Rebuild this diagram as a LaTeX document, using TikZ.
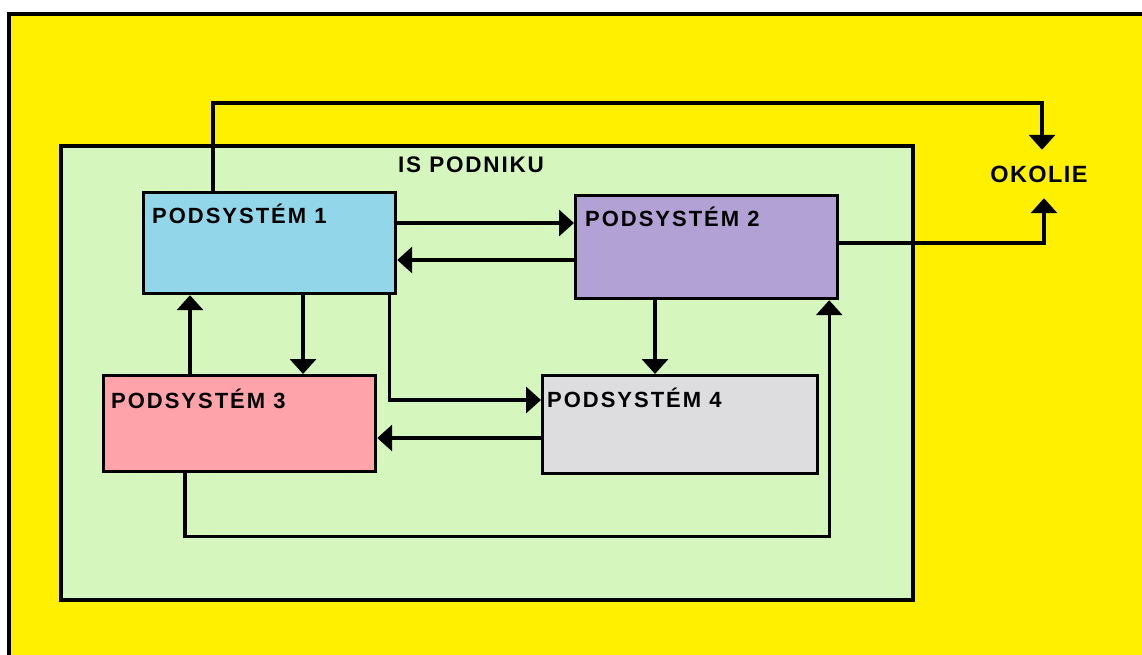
\documentclass[tikz,border=0pt]{standalone}
\usepackage{fontspec}
\setmainfont{Liberation Sans}
\usetikzlibrary{arrows.meta}
\definecolor{bgyellow}{RGB}{255,240,0}
\definecolor{isgreen}{RGB}{213,247,190}
\definecolor{pblue}{RGB}{146,214,234}
\definecolor{ppurple}{RGB}{178,161,212}
\definecolor{ppink}{RGB}{255,163,171}
\definecolor{pgray}{RGB}{221,221,224}
\tikzset{
  frame/.style={draw=black, line width=3.2pt},
  subsys/.style={draw=black, line width=3.2pt, rectangle, inner sep=0pt, anchor=north west},
  lbl/.style={anchor=base west, inner sep=0pt, font=\fontsize{22}{24}\selectfont\bfseries\addfontfeatures{LetterSpace=9}},
  arr/.style={line width=3.4pt, -{Triangle[length=15pt,width=26pt]}},
}
\begin{document}
\begin{tikzpicture}[x=1pt,y=-1pt]
\useasboundingbox (0,0) rectangle (1142,655);
\clip (0,0) rectangle (1142,655);
\fill[white] (0,0) rectangle (1142,655);
\draw[frame, fill=bgyellow] (9,14) rectangle (1170,680);
\draw[frame, fill=isgreen] (61,146) rectangle (913,600);
\node[anchor=base west, inner sep=0pt, font=\fontsize{22.5}{26}\selectfont\bfseries\addfontfeatures{LetterSpace=8}] (is) at (398,172) {IS PODNIKU};
\node[subsys, fill=pblue, minimum width=252pt, minimum height=101pt] (p1) at (142,191) {};
\node[subsys, fill=ppurple, minimum width=262pt, minimum height=103pt] (p2) at (574,194) {};
\node[subsys, fill=ppink, minimum width=272pt, minimum height=96pt] (p3) at (102,374) {};
\node[subsys, fill=pgray, minimum width=275pt, minimum height=98pt] (p4) at (541,374) {};
\node[lbl] (t1) at ([xshift=10pt,yshift=-32pt]p1.north west) {PODSYSTÉM 1};
\node[lbl] (t2) at ([xshift=11pt,yshift=-32pt]p2.north west) {PODSYSTÉM 2};
\node[lbl] (t3) at ([xshift=9pt,yshift=-34pt]p3.north west) {PODSYSTÉM 3};
\node[lbl] (t4) at ([xshift=6pt,yshift=-33pt]p4.north west) {PODSYSTÉM 4};
\node[inner sep=0pt, minimum height=48pt, font=\fontsize{23.5}{26}\selectfont\bfseries\addfontfeatures{LetterSpace=6}] (ok) at (1039,174) {OKOLIE};
% connectors
\draw[arr] ([yshift=-32pt]p1.north east) -- ([yshift=-29pt]p2.north west);
\draw[arr] ([yshift=-66pt]p2.north west) -- ([yshift=-69pt]p1.north east);
\draw[arr] ([xshift=161pt]p1.south west) -- ([xshift=201pt]p3.north west);
\draw[arr] ([xshift=88pt]p3.north west) -- ([xshift=48pt]p1.south west);
\draw[arr] ([xshift=-8pt]p1.south east) |- ([yshift=-26pt]p4.north west);
\draw[arr] ([yshift=-64pt]p4.north west) -- ([yshift=-64pt]p3.north east);
\draw[arr] ([xshift=81pt]p2.south west) -- ([xshift=114pt]p4.north west);
\draw[arr] ([xshift=83pt]p3.south west) -- ++(0pt,-63pt) -| ([xshift=-10pt]p2.south east);
\draw[arr] ([yshift=-49pt]p2.north east) -| ([xshift=5pt]ok.south);
\draw[arr] ([xshift=71pt]p1.north west) -- ++(0pt,88pt) -| ([xshift=3pt]ok.north);
\end{tikzpicture}
\end{document}
